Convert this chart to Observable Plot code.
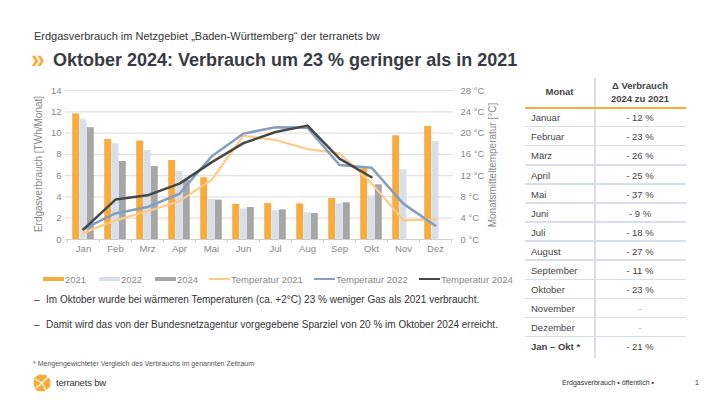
<!DOCTYPE html>
<html><head><meta charset="utf-8">
<script src="https://cdn.jsdelivr.net/npm/d3@7"></script>
<script src="https://cdn.jsdelivr.net/npm/@observablehq/plot@0.6"></script>
<style>
  body{margin:0;width:720px;height:405px;position:relative;overflow:hidden;background:#fff;font-family:"Liberation Sans",Arial,sans-serif;color:#333;}
  .abs{position:absolute;white-space:nowrap;}
</style></head>
<body>
<script>
// ---- data ----
const months = ["Jan","Feb","Mrz","Apr","Mai","Jun","Jul","Aug","Sep","Okt","Nov","Dez"];
const gas2021 = [11.8, 9.4, 9.25, 7.42, 5.8, 3.3, 3.37, 3.35, 3.85, 6.65, 9.74, 10.62];
const gas2022 = [11.25, 9.0, 8.36, 6.39, 3.76, 2.88, 2.71, 2.5, 3.35, 4.1, 6.55, 9.2];
const gas2024 = [10.5, 7.33, 6.86, 5.57, 3.7, 3.0, 2.79, 2.44, 3.45, 5.14, null, null];
const temp2021 = [1.2, 3.6, 5.3, 7.2, 11.2, 19.5, 18.7, 17.0, 16.2, 10.6, 3.6, 3.8];
const temp2022 = [2.0, 4.9, 6.1, 8.6, 15.6, 19.9, 21.1, 21.0, 14.0, 13.5, 6.7, 2.6];
const temp2024 = [1.9, 7.5, 8.3, 10.5, 14.5, 18.1, 20.2, 21.4, 15.2, 11.7, null, null];
const yTicks = [0, 2, 4, 6, 8, 10, 12, 14];
const legendNames = ["2021","2022","2024","Temperatur 2021","Temperatur 2022","Temperatur 2024"];
const tableMonths = ["Januar","Februar","März","April","Mai","Juni","Juli","August","September","Oktober","November","Dezember","Jan – Okt *"];
const tableDeltas = ["- 12 %","- 23 %","- 26 %","- 25 %","- 37 %","- 9 %","- 18 %","- 27 %","- 11 %","- 23 %","-","-","- 21 %"];

// ---- styles ----
const cBar = ["#F9AB3B","#D7DFEA","#A6A6A6"];
const cLine = ["#FFCA87","#849EC0","#474747"];

function add(html, style){const d=document.createElement("div");d.className="abs";d.style.cssText=style;d.innerHTML=html;document.body.appendChild(d);return d;}

// header
add("Erdgasverbrauch im Netzgebiet „Baden-Württemberg“ der terranets bw","left:34px;top:30px;font-size:11px;color:#333;");
add("»","left:31px;top:45px;font-size:25px;font-weight:bold;color:#F9AB3B;line-height:28px;");
add("Oktober 2024: Verbrauch um 23 % geringer als in 2021","left:53px;top:49px;font-size:18px;font-weight:bold;color:#383b43;line-height:22px;");

// chart
const rows = months.map((m,i)=>({m, g21:gas2021[i], g22:gas2022[i], g24:gas2024[i], t21:temp2021[i], t22:temp2022[i], t24:temp2024[i]}));
const bw = 7.3, inset = (388/12 - bw)/2;
const chart = Plot.plot({
  width: 510, height: 180,
  marginTop: 10, marginBottom: 21, marginLeft: 65, marginRight: 57,
  style: {fontFamily: '"Liberation Sans",Arial,sans-serif', fontSize: "9.5px", color: "#888"},
  x: {domain: months, padding: 0, axis: null},
  y: {domain: [0, 14], axis: null},
  marks: [
    Plot.ruleY(yTicks.slice(1), {stroke: "#e2e2e2", strokeWidth: 1.2}),
    Plot.barY(rows, {x: "m", y: "g21", fill: cBar[0], insetLeft: inset, insetRight: inset, dx: -bw}),
    Plot.barY(rows, {x: "m", y: "g22", fill: cBar[1], insetLeft: inset, insetRight: inset}),
    Plot.barY(rows.filter(d=>d.g24!=null), {x: "m", y: "g24", fill: cBar[2], insetLeft: inset, insetRight: inset, dx: bw}),
    Plot.ruleY([0], {stroke: "#d0d0d0", strokeWidth: 1.2}),
    Plot.ruleX(months, {x: d=>d, y1: 0, y2: 0, insetBottom: -4, dx: -388/24, stroke: "#d0d0d0"}),
    Plot.ruleX(months.slice(-1), {x: d=>d, y1: 0, y2: 0, insetBottom: -4, dx: 388/24, stroke: "#d0d0d0"}),
    Plot.lineY(rows, {x: "m", y: d=>d.t21/2, stroke: cLine[0], strokeWidth: 2.2}),
    Plot.lineY(rows, {x: "m", y: d=>d.t22/2, stroke: cLine[1], strokeWidth: 2.5}),
    Plot.lineY(rows.filter(d=>d.t24!=null), {x: "m", y: d=>d.t24/2, stroke: cLine[2], strokeWidth: 2.5}),
    Plot.axisX({tickSize: 0, tickPadding: 6, fill: "#888", fontSize: 9.5, label: null}),
    Plot.axisY({anchor: "left", ticks: yTicks, tickSize: 0, tickPadding: 4, fill: "#888", fontSize: 9.5, label: null}),
    Plot.axisY({anchor: "right", ticks: yTicks, tickFormat: d => `${d*2} °C`, tickSize: 0, tickPadding: 7, fill: "#888", fontSize: 9.5, label: null})
  ]
});
const wrap = add("", "left:0;top:80px;");
wrap.appendChild(chart);
add("Erdgasverbrauch [TWh/Monat]","left:38px;top:164px;font-size:10px;color:#888;transform:translate(-50%,-50%) rotate(-90deg);");
add("Monatsmitteltemperatur [°C]","left:492px;top:165px;font-size:10px;color:#888;transform:translate(-50%,-50%) rotate(-90deg);");

// legend
const legX = [43, 99, 155, 209, 314, 419];
legendNames.forEach((n,i)=>{
  const isBar = i<3;
  const col = isBar ? cBar[i] : cLine[i-3];
  add(`<span style="display:inline-block;width:21px;height:${isBar?4:2}px;background:${col};vertical-align:middle;margin-right:1px;position:relative;top:-1px"></span>${n}`,
      `left:${legX[i]}px;top:273px;font-size:9.5px;color:#888;line-height:14px;`);
});

// bullets
add("–","left:34px;top:294px;font-size:10px;color:#333;");
add("Im Oktober wurde bei wärmeren Temperaturen (ca. +2°C) 23 % weniger Gas als 2021 verbraucht.","left:46px;top:294px;font-size:10px;color:#333;");
add("–","left:34px;top:319px;font-size:10px;color:#333;");
add("Damit wird das von der Bundesnetzagentur vorgegebene Sparziel von 20 % im Oktober 2024 erreicht.","left:46px;top:319px;font-size:10px;color:#333;");

// table
add("","left:594px;top:78px;width:1.5px;height:280px;background:#d6dfea;");
add("Monat","left:525px;top:86px;width:69px;text-align:center;font-size:9.5px;font-weight:bold;color:#444;");
add("Δ Verbrauch<br>2024 zu 2021","left:594px;top:80px;width:92px;text-align:center;font-size:9.5px;font-weight:bold;color:#444;line-height:12.5px;");
add("","left:525px;top:106.5px;width:161px;height:2px;background:#F9AB3B;");
tableMonths.forEach((m,i)=>{
  const top = 108.3 + i*19.08;
  const last = i===tableMonths.length-1;
  add(m, `left:531px;top:${top+4}px;font-size:9.5px;color:#444;${last?'font-weight:bold;':''}`);
  add(tableDeltas[i], `left:594px;width:92px;text-align:center;top:${top+4}px;font-size:9.5px;color:${tableDeltas[i]==='-'?'#aaa':'#444'};`);
  if(!last) add("", `left:525px;top:${top+17.6}px;width:161px;height:1.5px;background:#d6dfea;`);
});

// footer
add("* Mengengewichteter Vergleich des Verbrauchs im genannten Zeitraum","left:33px;top:360px;font-size:7px;color:#555;");
add(`<svg width="18" height="18" viewBox="0 0 18 18"><polygon points="6,0.5 13,1 17.5,6 17,13 11,17.5 4,17 0.5,11 1,4" fill="#F9AB3B"/><path d="M2,5 L9,9 L15,3 M9,9 L13,16 M9,9 L3,14" stroke="#fff" stroke-width="1.2" fill="none"/></svg>`,"left:33px;top:374px;line-height:0;");
add("terranets bw","left:56px;top:377px;font-size:9.5px;color:#333;letter-spacing:-0.2px;");
add("Erdgasverbrauch • öffentlich •","left:562px;top:379px;font-size:7px;color:#333;");
add("1","left:695px;top:379px;font-size:7px;color:#333;");
</script>
</body></html>
